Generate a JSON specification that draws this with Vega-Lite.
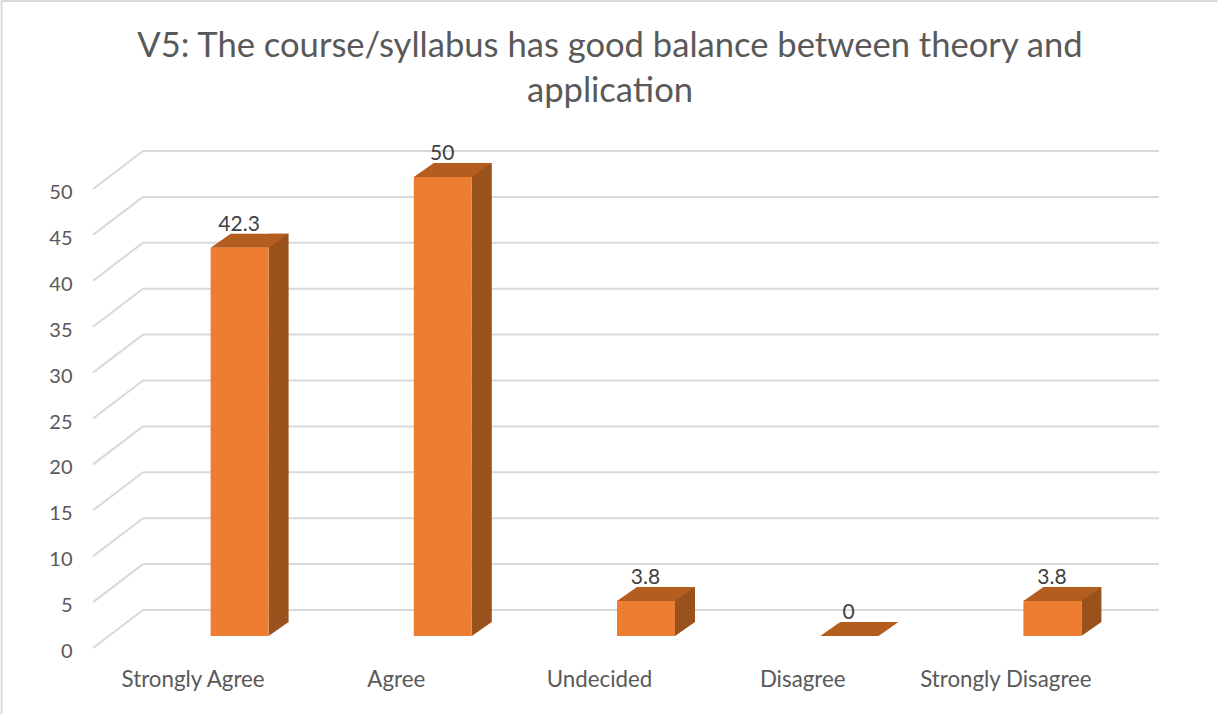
{
"$schema":"https://vega.github.io/schema/vega-lite/v6.json",
"width":1016,"height":459,
"autosize":{"type":"none"},
"padding":{"left":143,"top":177,"right":59,"bottom":78},
"background":"white",
"config":{"view":{"stroke":null},"font":"Lato"},
"title":{"text":["V5: The course/syllabus has good balance between theory and","application"],"anchor":"middle","frame":"group","dx":-41,"offset":0,"dy":113,"fontSize":34.6,"fontWeight":"normal","color":"#595959","lineHeight":45,"font":"Lato"},
"datasets":{
"bars":[{"category":"Strongly Agree","value":42.3},{"category":"Agree","value":50},{"category":"Undecided","value":3.8},{"category":"Disagree","value":0},{"category":"Strongly Disagree","value":3.8}],
"ticks":[{"tick":0},{"tick":5},{"tick":10},{"tick":15},{"tick":20},{"tick":25},{"tick":30},{"tick":35},{"tick":40},{"tick":45},{"tick":50}]
},
"resolve":{"scale":{"x":"shared","y":"shared"}},
"layer":[
{"data":{"name":"ticks"},"mark":{"type":"rule","yOffset":-26,"color":"#d9d9d9","strokeWidth":2,"clip":false},
 "encoding":{"y":{"field":"tick","type":"quantitative","scale":{"domain":[0,50],"nice":false},"axis":{"values":[0,5,10,15,20,25,30,35,40,45,50],"title":null,"domain":false,"ticks":false,"grid":false,"labelPadding":71,"labelOffset":15.5,"labelFontSize":20,"labelColor":"#595959","labelFont":"Lato"}}}},
{"data":{"name":"ticks"},"mark":{"type":"point","shape":"M-151.6 12 L-101.6 -26","size":4,"filled":false,"stroke":"#d9d9d9","strokeWidth":2,"opacity":1},
 "encoding":{"x":{"datum":"Strongly Agree","type":"nominal"},"y":{"field":"tick","type":"quantitative"}}},
{"data":{"values":[{"corner":"frame"}]},"mark":{"type":"point","shape":"M-243 78 L-243 -635 L973 -635","size":4,"filled":false,"stroke":"#d9d9d9","strokeWidth":2,"opacity":1},
 "encoding":{"x":{"datum":"Strongly Agree","type":"nominal"},"y":{"datum":0,"type":"quantitative"}}},
{"data":{"name":"bars"},"mark":{"type":"point","shape":"M24 0 L24 -14 L44 -14 Z","size":4,"filled":true,"color":"#9A521C","strokeWidth":0,"opacity":1},
 "encoding":{"x":{"field":"category","type":"nominal","sort":null},"y":{"datum":0,"type":"quantitative"}}},
{"data":{"name":"bars"},"mark":{"type":"bar","size":20,"xOffset":34,"yOffset":-14,"color":"#9A521C"},
 "encoding":{"x":{"field":"category","type":"nominal","sort":null},"y":{"field":"value","type":"quantitative"}}},
{"data":{"name":"bars"},"mark":{"type":"point","shape":"M-34 0 L24 0 L44 -14 L-14 -14 Z","size":4,"filled":true,"color":"#B35D1F","strokeWidth":0,"opacity":1},
 "encoding":{"x":{"field":"category","type":"nominal","sort":null},"y":{"field":"value","type":"quantitative"}}},
{"data":{"name":"bars"},"mark":{"type":"bar","size":58,"xOffset":-5,"color":"#ED7D31"},
 "encoding":{"x":{"field":"category","type":"nominal","sort":null,"axis":{"title":null,"domain":false,"ticks":false,"labelAngle":0,"labelAlign":"center","labelOffset":-51.5,"labelPadding":43,"labelFontSize":22.3,"labelColor":"#595959","labelFont":"Lato"}},"y":{"field":"value","type":"quantitative"}}},
{"data":{"name":"bars"},"mark":{"type":"text","xOffset":-5.5,"dy":-23,"fontSize":21,"color":"#404040","font":"Lato"},
 "encoding":{"x":{"field":"category","type":"nominal","sort":null},"y":{"field":"value","type":"quantitative"},"text":{"field":"value","type":"quantitative"}}}
]
}
